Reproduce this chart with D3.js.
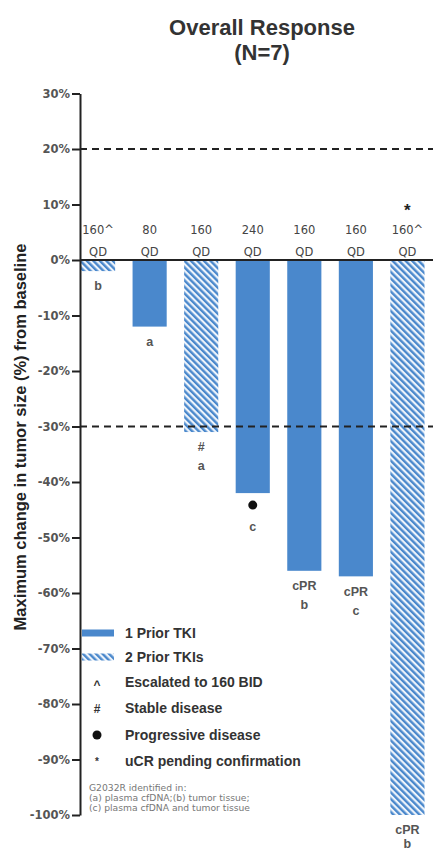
<!DOCTYPE html>
<html>
<head>
<meta charset="utf-8">
<script src="https://cdn.jsdelivr.net/npm/d3@7"></script>
<style>
  html, body { margin: 0; padding: 0; background: #fff; }
  svg { display: block; font-family: "Liberation Sans", Arial, sans-serif; }
</style>
</head>
<body>
<div id="chart"></div>
<script>
// patients in the order shown
const patients = ['P1', 'P2', 'P3', 'P4', 'P5', 'P6', 'P7'];
const changes = [-2, -12, -31, -42, -56, -57, -100];
const priorTkis = [2, 1, 2, 1, 1, 1, 2];
const doses = ['160^', '80', '160', '240', '160', '160', '160^'];
const schedules = ['QD', 'QD', 'QD', 'QD', 'QD', 'QD', 'QD'];
const topNotes = ['', '', '', '', '', '', '*'];
const bottomNotes = [['b'], ['a'], ['#', 'a'], ['●', 'c'], ['cPR', 'b'], ['cPR', 'c'], ['cPR', 'b']];
const yTicks = [30, 20, 10, 0, -10, -20, -30, -40, -50, -60, -70, -80, -90, -100];
const refLines = [20, -30];
const legendBars = ['1 Prior TKI', '2 Prior TKIs'];
const legendSymbols = ['^', '#', '●', '*'];
const legendSymbolText = ['Escalated to 160 BID', 'Stable disease', 'Progressive disease', 'uCR pending confirmation'];
const footnote = ['G2032R identified in:', '(a) plasma cfDNA;(b) tumor tissue;', '(c) plasma cfDNA and tumor tissue'];

const width = 433, height = 852;
const blue = '#4a88cc';
const ink = '#333';
const wide = '"DejaVu Sans", Verdana, sans-serif';
const axisX = 80;

const svg = d3.select('#chart').append('svg')
  .attr('width', width)
  .attr('height', height);

const defs = svg.append('defs');
const hatch = defs.append('pattern')
  .attr('id', 'hatch')
  .attr('patternUnits', 'userSpaceOnUse')
  .attr('width', 4.6)
  .attr('height', 4.6)
  .attr('patternTransform', 'rotate(-45)');
hatch.append('rect').attr('width', 4.6).attr('height', 4.6).attr('fill', '#eef4fb');
hatch.append('rect').attr('width', 2.4).attr('height', 4.6).attr('fill', blue);

const y = d3.scaleLinear().domain([-100, 30]).range([815, 93.5]);
const x = d3.scaleBand()
  .domain(patients)
  .range([81, 424.5])
  .paddingInner(0.338)
  .paddingOuter(0);

// title
svg.append('text')
  .attr('x', 262).attr('y', 35)
  .attr('text-anchor', 'middle')
  .attr('font-size', 22).attr('font-weight', 'bold').attr('fill', '#333')
  .text('Overall Response');
svg.append('text')
  .attr('x', 262).attr('y', 60)
  .attr('text-anchor', 'middle')
  .attr('font-size', 22).attr('font-weight', 'bold').attr('fill', '#333')
  .text('(N=7)');

// y axis title
svg.append('text')
  .attr('transform', `translate(26, 437) rotate(-90)`)
  .attr('text-anchor', 'middle')
  .attr('font-size', 16.5).attr('font-weight', 'bold').attr('fill', '#222')
  .text('Maximum change in tumor size (%) from baseline');

// bars
svg.selectAll('.bar')
  .data(patients)
  .enter()
  .append('rect')
  .attr('class', 'bar')
  .attr('x', d => x(d))
  .attr('width', x.bandwidth())
  .attr('y', y(0))
  .attr('height', (d, i) => y(changes[i]) - y(0))
  .attr('fill', (d, i) => priorTkis[i] === 1 ? blue : 'url(#hatch)');

// reference lines
svg.selectAll('.ref')
  .data(refLines)
  .enter()
  .append('line')
  .attr('x1', axisX).attr('x2', width)
  .attr('y1', d => y(d)).attr('y2', d => y(d))
  .attr('stroke', '#222').attr('stroke-width', 2)
  .attr('stroke-dasharray', '7,5');

// baseline
svg.append('line')
  .attr('x1', axisX).attr('x2', width)
  .attr('y1', y(0)).attr('y2', y(0))
  .attr('stroke', '#222').attr('stroke-width', 2);

// y axis
const yAxis = d3.axisLeft(y)
  .tickValues(yTicks)
  .tickFormat(d => d + '%')
  .tickSize(8)
  .tickSizeOuter(0)
  .tickPadding(2);
const gAxis = svg.append('g')
  .attr('transform', `translate(${axisX},0)`)
  .call(yAxis);
gAxis.select('.domain').attr('stroke', '#222').attr('stroke-width', 2);
gAxis.selectAll('.tick line').attr('stroke', '#222').attr('stroke-width', 2);
gAxis.selectAll('.tick text')
  .attr('font-size', 11.5).attr('font-weight', 'bold').attr('fill', '#555')
  .attr('font-family', wide);

// dose labels above the baseline
const doseLabels = svg.selectAll('.dose')
  .data(patients)
  .enter()
  .append('g')
  .attr('class', 'dose')
  .attr('transform', d => `translate(${x(d) + x.bandwidth() / 2},0)`);
doseLabels.append('text')
  .attr('y', 234).attr('text-anchor', 'middle')
  .attr('font-size', 11.5).attr('fill', '#444').attr('font-family', wide)
  .text((d, i) => doses[i]);
doseLabels.append('text')
  .attr('y', 256).attr('text-anchor', 'middle')
  .attr('font-size', 11.5).attr('fill', '#444').attr('font-family', wide)
  .text((d, i) => schedules[i]);
doseLabels.append('text')
  .attr('y', 216).attr('text-anchor', 'middle')
  .attr('font-size', 17).attr('font-weight', 'bold').attr('fill', '#222')
  .text((d, i) => topNotes[i]);

// notes under each bar
patients.forEach((p, i) => {
  const cx = x(p) + x.bandwidth() / 2;
  const base = y(changes[i]);
  const gap = i === patients.length - 1 ? 14 : 19;
  bottomNotes[i].forEach((note, j) => {
    const cy = base + 15 + j * gap;
    if (note === '●') {
      svg.append('circle').attr('cx', cx).attr('cy', cy - 3).attr('r', 4.5).attr('fill', '#111');
    } else {
      svg.append('text')
        .attr('x', cx).attr('y', cy)
        .attr('dy', '0.35em')
        .attr('text-anchor', 'middle')
        .attr('font-size', 12.5).attr('font-weight', 600).attr('fill', '#555')
        .text(note);
    }
  });
});

// legend
const legend = svg.append('g');
legendBars.forEach((label, i) => {
  const ly = 633 + i * 24;
  legend.append('rect')
    .attr('x', 82).attr('y', ly - 3.5).attr('width', 32).attr('height', 7)
    .attr('fill', i === 0 ? blue : 'url(#hatch)');
  legend.append('text')
    .attr('x', 125).attr('y', ly).attr('dy', '0.35em')
    .attr('font-size', 14).attr('font-weight', 'bold').attr('fill', ink)
    .text(label);
});
legendSymbols.forEach((sym, i) => {
  const ly = 682 + i * 26.5;
  if (sym === '●') {
    legend.append('circle').attr('cx', 97).attr('cy', ly).attr('r', 4.5).attr('fill', '#111');
  } else {
    legend.append('text')
      .attr('x', 97).attr('y', ly + (sym === '^' ? 3 : 0)).attr('dy', '0.35em')
      .attr('text-anchor', 'middle')
      .attr('font-size', sym === '*' ? 10 : 12).attr('font-weight', 'bold').attr('fill', ink)
      .text(sym);
  }
  legend.append('text')
    .attr('x', 125).attr('y', ly).attr('dy', '0.35em')
    .attr('font-size', 14).attr('font-weight', 'bold').attr('fill', ink)
    .text(legendSymbolText[i]);
});
footnote.forEach((line, i) => {
  legend.append('text')
    .attr('x', 89).attr('y', 791 + i * 10)
    .attr('font-size', 9.2).attr('fill', '#777').attr('font-family', wide)
    .text(line);
});
</script>
</body>
</html>
